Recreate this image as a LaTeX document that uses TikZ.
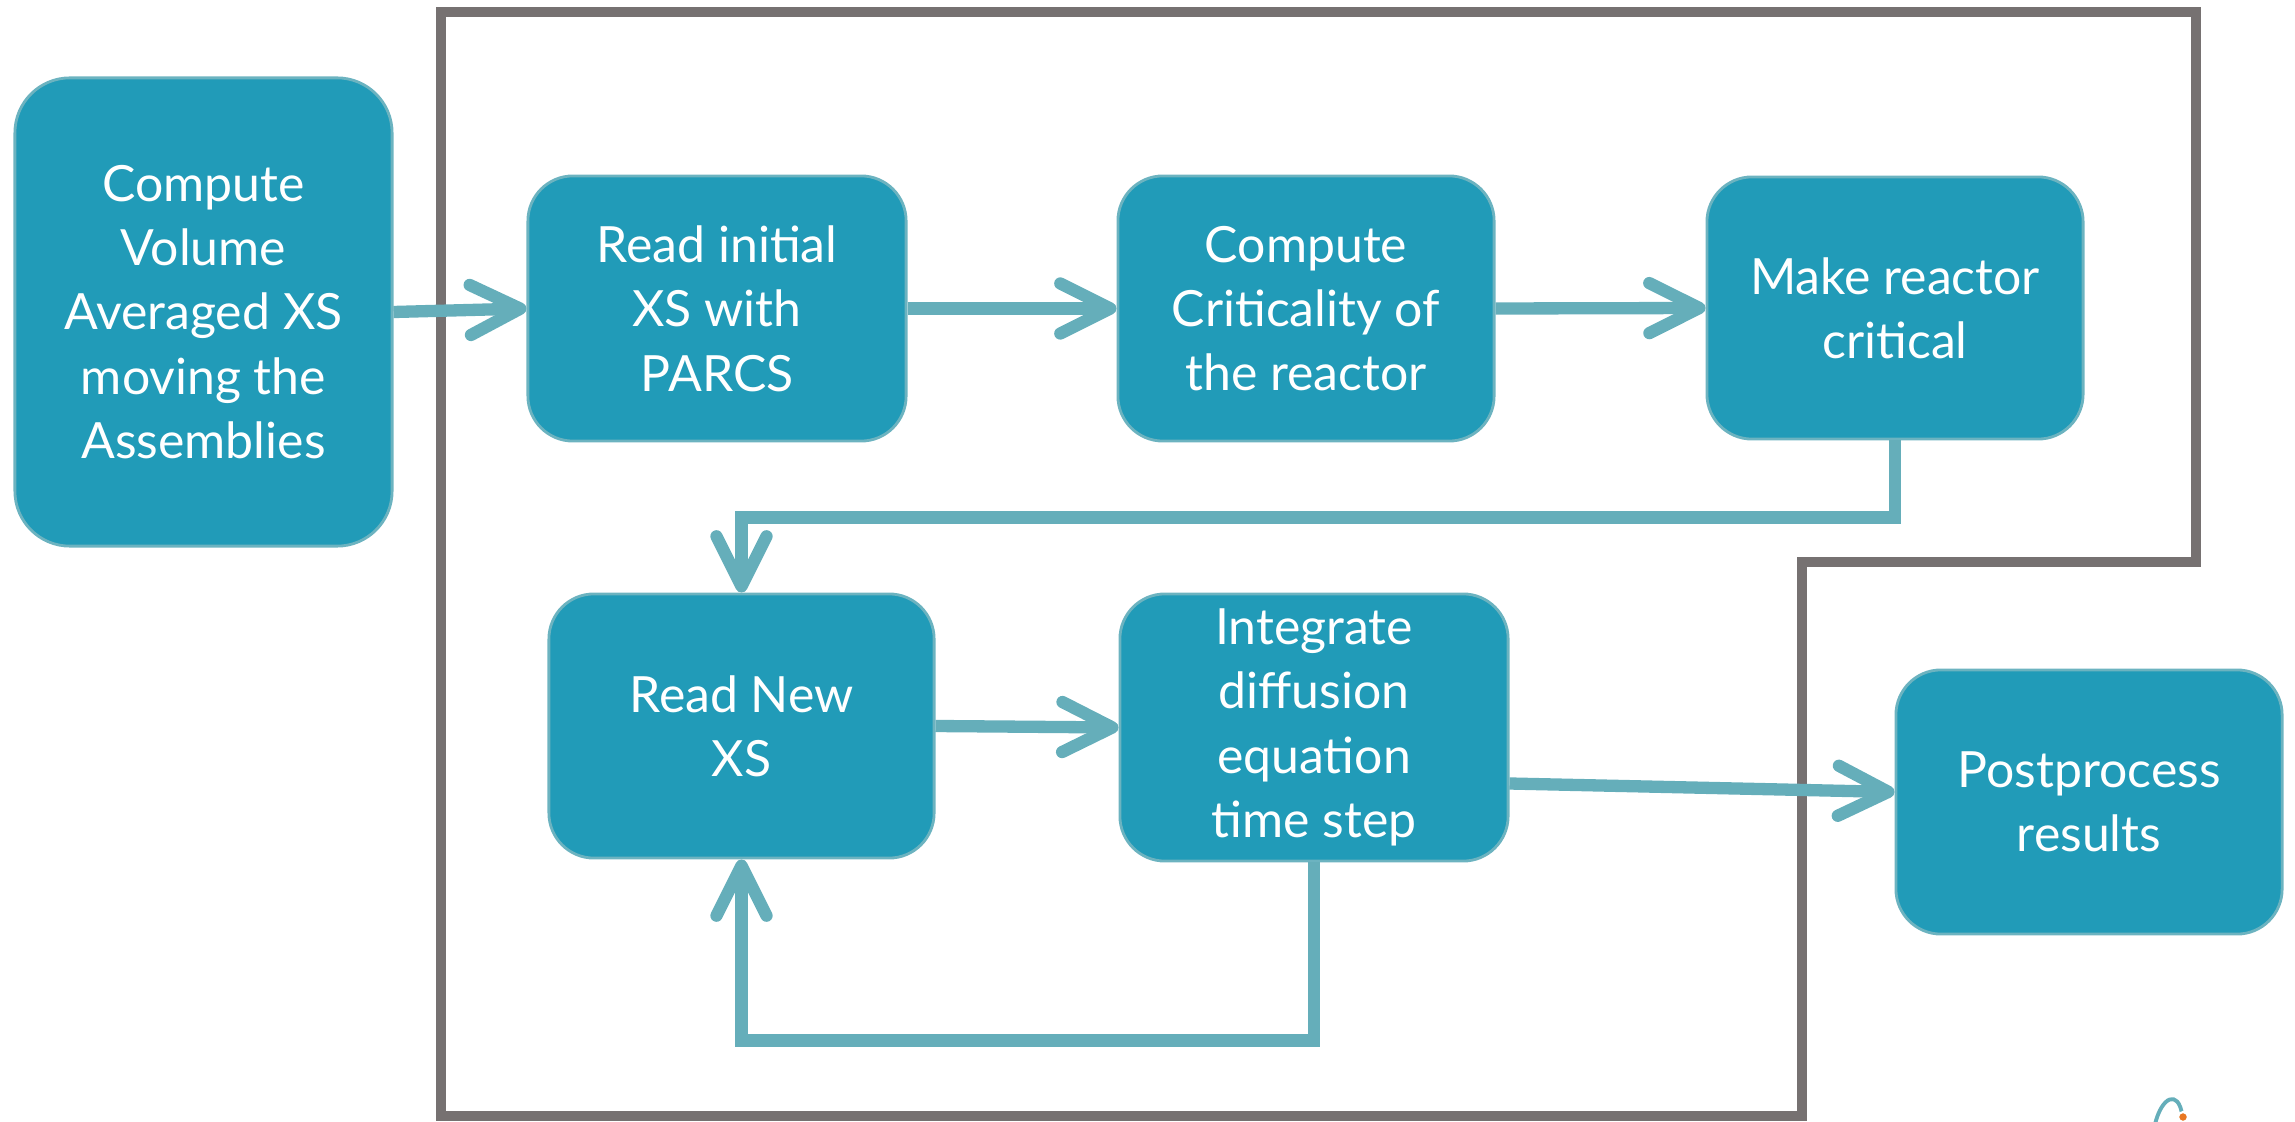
\documentclass[tikz,border=0pt]{standalone}
\usepackage{fontspec}
\setmainfont{Lato}
\usetikzlibrary{arrows.meta,calc}
\definecolor{boxfill}{HTML}{219BB8}
\definecolor{boxline}{HTML}{6CB3C0}
\definecolor{connc}{HTML}{65AEBA}
\definecolor{framec}{HTML}{767171}
\definecolor{logoorange}{HTML}{E87722}
\begin{document}
\begin{tikzpicture}[x=0.01cm,y=-0.01cm,
  proc/.style={rectangle, rounded corners=0.45cm, fill=boxfill, draw=boxline, line width=0.8pt,
    text=white, align=center, font=\fontsize{14.2}{18.3}\selectfont, inner sep=0pt},
  conn/.style={draw=connc, line width=3.5pt, line join=miter,
    -{Straight Barb[length=0.5cm,width=0.5cm,round]}},
  frameline/.style={draw=framec, line width=2.6pt, line join=miter}]
\useasboundingbox (0,0) rectangle (2295,1122);
% gray frame
\draw[frameline] (441,1116) -- (441,12) -- (2196,12) -- (2196,562) -- (1802,562) -- (1802,1116) -- cycle;
% nodes
\node[proc, rounded corners=0.55cm, minimum width=3.77cm, minimum height=4.68cm] (A) at (203.5,312)
  {Compute\\Volume\\Averaged XS\\moving the\\Assemblies};
\node[proc, minimum width=3.78cm, minimum height=2.65cm] (B) at (717,308.5) {Read initial\\XS with\\PARCS};
\node[proc, minimum width=3.76cm, minimum height=2.65cm] (C) at (1306,308.5) {Compute\\Criticality of\\the reactor};
\node[proc, minimum width=3.76cm, minimum height=2.62cm] (D) at (1895,308) {Make reactor\\critical};
\node[proc, minimum width=3.85cm, minimum height=2.64cm] (E) at (741.5,726) {Read New\\XS};
\node[proc, minimum width=3.88cm, minimum height=2.67cm] (F) at (1314,727.5) {Integrate\\diffusion\\equation\\time step};
\node[proc, minimum width=3.86cm, minimum height=2.64cm] (G) at (2089,802) {Postprocess\\results};
% connectors
\draw[conn] (A.east) -- (B.west);
\draw[conn] (B.east) -- (C.west);
\draw[conn] (C.east) -- (D.west);
\draw[conn] (D.south) -- ++(0,77) -| (E.north);
\draw[conn] (E.east) -- (F.west);
\draw[conn] ($(F.east)+(0,56)$) -- ($(G.west)+(0,-10)$);
\draw[conn] (F.south) -- ++(0,178) -| (E.south);
% logo fragment
\draw[draw=connc, line width=1.1pt] (2155,1124) .. controls (2162,1096) and (2178,1090) .. (2182,1114);
\fill[logoorange, draw=white, line width=0.6pt] (2183,1117) circle (0.05cm);
\end{tikzpicture}
\end{document}
